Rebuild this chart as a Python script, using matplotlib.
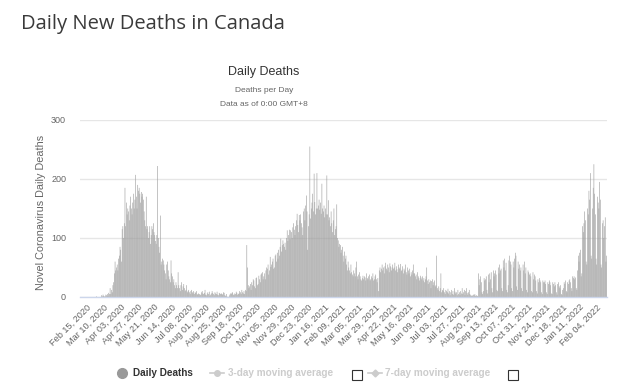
import numpy as np
import pandas as pd
import matplotlib
matplotlib.use("Agg")
import matplotlib.pyplot as plt
from matplotlib.lines import Line2D
from matplotlib.patches import Rectangle
from matplotlib.transforms import ScaledTranslation


# =========================
# DATA (one list per month)
# =========================
START_DATE = "2020-02-15"

feb_2020 = [0] * 15
mar_2020 = [0, 0, 0, 0, 0, 0, 0, 0, 1, 0, 0, 0, 0, 0, 0, 3, 1, 4, 2, 1, 1, 4, 3, 5, 2, 7, 5, 15, 5, 12, 8]
apr_2020 = [20, 25, 40, 60, 45, 50, 55, 45, 65, 70, 85, 80, 60, 115, 120, 100, 125, 185, 120, 160,
            140, 150, 145, 130, 155, 170, 150, 140, 160, 175]
may_2020 = [150, 165, 207, 170, 150, 190, 180, 185, 175, 160, 178, 170, 175, 165, 145, 130, 120, 170,
            115, 120, 100, 110, 120, 90, 105, 120, 115, 125, 110, 105, 95]
jun_2020 = [90, 105, 222, 100, 85, 75, 138, 55, 60, 65, 62, 55, 45, 40, 30, 55, 60, 45, 35, 30,
            25, 62, 40, 35, 25, 30, 20, 15, 25, 20]
jul_2020 = [15, 42, 20, 15, 10, 20, 25, 12, 18, 22, 15, 10, 12, 20, 8, 10, 12, 8, 5, 10, 12, 8, 6,
            10, 5, 8, 7, 10, 4, 5, 6]
aug_2020 = [5, 3, 4, 8, 10, 6, 5, 7, 12, 4, 3, 6, 8, 5, 9, 2, 4, 6, 10, 7, 5, 3, 8, 6, 5, 9, 4, 3,
            7, 6, 5]
sep_2020 = [6, 5, 4, 8, 7, 3, 2, 5, 1, 0, 0, 1, 4, 6, 5, 7, 8, 4, 3, 6, 5, 9, 7, 4, 5, 6, 10, 8, 5, 12]
oct_2020 = [8, 6, 10, 5, 12, 10, 88, 50, 20, 15, 18, 22, 12, 25, 20, 30, 28, 18, 15, 32, 33, 20, 22,
            36, 30, 25, 38, 40, 42, 30, 35]
nov_2020 = [40, 30, 45, 50, 48, 55, 38, 45, 68, 51, 55, 60, 65, 48, 50, 70, 72, 60, 75, 65, 80, 70,
            85, 99, 77, 88, 96, 90, 85, 92]
dec_2020 = [80, 100, 113, 95, 105, 114, 98, 113, 110, 100, 118, 125, 114, 105, 120, 130, 141, 122,
            110, 139, 130, 140, 125, 118, 105, 145, 150, 130, 155, 172, 145]
jan_2021 = [80, 120, 140, 255, 133, 150, 160, 175, 145, 209, 161, 140, 150, 210, 150, 155, 165, 148,
            160, 141, 192, 150, 145, 155, 135, 150, 140, 206, 140, 164, 130]
feb_2021 = [135, 120, 145, 125, 110, 130, 150, 105, 115, 120, 157, 100, 96, 85, 90, 88, 75, 80, 85,
            70, 60, 77, 65, 70, 55, 45, 60, 50]
mar_2021 = [45, 40, 55, 42, 38, 35, 45, 40, 35, 50, 60, 35, 30, 38, 42, 35, 30, 28, 32, 36, 30, 35,
            33, 28, 40, 32, 30, 35, 38, 28, 30]
apr_2021 = [35, 32, 40, 28, 30, 35, 38, 30, 25, 32, 10, 45, 50, 42, 48, 55, 45, 50, 40, 52, 58, 48,
            45, 55, 50, 42, 57, 52, 45, 50]
may_2021 = [55, 48, 50, 58, 45, 52, 47, 42, 55, 50, 48, 56, 44, 46, 52, 40, 48, 45, 55, 42, 38, 50,
            45, 40, 48, 35, 42, 38, 45, 55, 40]
jun_2021 = [40, 35, 38, 30, 42, 35, 32, 28, 36, 33, 30, 35, 28, 32, 25, 30, 35, 50, 28, 22, 30, 25,
            28, 15, 27, 30, 20, 25, 28, 18]
jul_2021 = [20, 70, 15, 12, 18, 10, 15, 40, 8, 12, 10, 15, 8, 5, 12, 10, 8, 14, 6, 10, 3, 8, 12, 5,
            10, 4, 15, 9, 6, 8, 3]
aug_2021 = [12, 5, 8, 3, 10, 6, 15, 5, 8, 12, 3, 10, 15, 7, 4, 8, 12, 5, 3, 2, 3, 2, 4, 3, 5, 2, 3,
            1, 2, 40, 20]
sep_2021 = [30, 35, 25, 8, 5, 10, 32, 28, 30, 35, 12, 6, 38, 25, 40, 30, 42, 15, 8, 45, 35, 40, 45,
            38, 12, 10, 50, 40, 55, 45]
oct_2021 = [48, 15, 10, 62, 50, 65, 45, 58, 12, 8, 20, 62, 70, 60, 55, 15, 10, 60, 50, 65, 75, 70,
            18, 12, 60, 48, 55, 45, 50, 15, 10]
nov_2021 = [55, 45, 60, 40, 50, 12, 8, 45, 42, 38, 40, 35, 10, 8, 42, 30, 38, 35, 28, 10, 6, 30, 25,
            32, 28, 25, 8, 5, 28, 25]
dec_2021 = [25, 28, 22, 8, 5, 25, 22, 28, 25, 20, 6, 5, 25, 22, 18, 25, 20, 8, 4, 22, 25, 18, 15,
            20, 5, 3, 12, 15, 25, 22, 28]
jan_2022 = [10, 8, 25, 22, 28, 30, 25, 15, 10, 35, 32, 35, 30, 33, 15, 12, 45, 70, 60, 75, 80, 35,
            40, 120, 110, 125, 145, 130, 60, 55, 150]
feb_2022 = [140, 180, 165, 210, 70, 65, 150, 185, 225, 175, 140, 65, 55, 170, 160, 150, 195, 165,
            55, 50, 125, 130, 100, 120, 135, 60, 70]

daily_deaths = (feb_2020 + mar_2020 + apr_2020 + may_2020 + jun_2020 + jul_2020 + aug_2020
                + sep_2020 + oct_2020 + nov_2020 + dec_2020 + jan_2021 + feb_2021 + mar_2021
                + apr_2021 + may_2021 + jun_2021 + jul_2021 + aug_2021 + sep_2021 + oct_2021
                + nov_2021 + dec_2021 + jan_2022 + feb_2022)

dates = pd.date_range(START_DATE, periods=len(daily_deaths), freq="D")
date_labels = [d.strftime("%b %d, %Y") for d in dates]

Y_TICKS = [0, 100, 200, 300]
LABEL_STEP = 24


# =========================
# STYLE
# =========================
W, H = 632, 390
CHART_FONT = ["Liberation Sans", "DejaVu Sans"]
BAR_COLOR = "#999999"
GRID_COLOR = "#e6e6e6"
TEXT_DARK = "#333333"
TEXT_MID = "#666666"
LEGEND_OFF = "#cccccc"


def fx(x):
    return x / W


def fy(y):
    return 1 - y / H


fig = plt.figure(figsize=(W / 100, H / 100), dpi=100)
fig.patch.set_facecolor("white")

# plot area in pixels: x 80..607, y 120..297
ax = fig.add_axes([fx(80), fy(297), (607 - 80) / W, (297 - 120) / H])

x = np.arange(len(daily_deaths))
bars = ax.bar(x, daily_deaths, width=0.8, color=BAR_COLOR, linewidth=0, zorder=2)
# sub-pixel columns: no snapping, so thin bars are not dropped
for b in bars:
    b.set_snap(False)

ax.set_xlim(-0.5, len(daily_deaths) - 0.5)
ax.set_ylim(0, 300)
ax.set_yticks(Y_TICKS)
ax.set_yticklabels([str(v) for v in Y_TICKS], fontsize=6.5, color=TEXT_MID, family=CHART_FONT)
ax.tick_params(axis="y", length=0, pad=10)
ax.grid(axis="y", color=GRID_COLOR, linewidth=1, zorder=0)
ax.set_axisbelow(True)

tick_pos = x[::LABEL_STEP]
ax.set_xticks(tick_pos)
ax.set_xticklabels([date_labels[i] for i in tick_pos], rotation=45, ha="right", va="top",
                   rotation_mode="anchor", fontsize=6.6, color=TEXT_MID, family=CHART_FONT)
ax.tick_params(axis="x", length=0, pad=4)
offset = ScaledTranslation(6 / 100, 0, fig.dpi_scale_trans)
for lab in ax.get_xticklabels():
    lab.set_transform(lab.get_transform() + offset)

for side in ["top", "right", "left"]:
    ax.spines[side].set_visible(False)
ax.spines["bottom"].set_color("#ccd6eb")
ax.spines["bottom"].set_linewidth(1)

fig.text(fx(41), fy(212), "Novel Coronavirus Daily Deaths", rotation=90, ha="center", va="center",
         fontsize=7.8, color=TEXT_MID, family=CHART_FONT)

# titles
fig.text(fx(21), fy(29), "Daily New Deaths in Canada", ha="left", va="baseline",
         fontsize=14.5, color="#3a3a3a", family=["Open Sans", "DejaVu Sans"])
fig.text(fx(264), fy(72), "Daily Deaths", ha="center", va="center",
         fontsize=9, color=TEXT_DARK, family=CHART_FONT)
fig.text(fx(264), fy(90), "Deaths per Day", ha="center", va="center",
         fontsize=6, color=TEXT_MID, family=CHART_FONT)
fig.text(fx(264), fy(104), "Data as of 0:00 GMT+8", ha="center", va="center",
         fontsize=6, color=TEXT_MID, family=CHART_FONT)

# legend
ly = fy(373)
fig.add_artist(Line2D([fx(122)], [ly], marker="o", markersize=7, color="#999999",
                      linestyle="none", transform=fig.transFigure))
fig.text(fx(133), ly, "Daily Deaths", ha="left", va="center", fontsize=7.2,
         fontweight="bold", color=TEXT_DARK, family=CHART_FONT)

fig.add_artist(Line2D([fx(210), fx(224)], [ly, ly], color=LEGEND_OFF, linewidth=1.2,
                      transform=fig.transFigure))
fig.add_artist(Line2D([fx(217)], [ly], marker="o", markersize=4, color=LEGEND_OFF,
                      linestyle="none", transform=fig.transFigure))
fig.text(fx(228), ly, "3-day moving average", ha="left", va="center", fontsize=7.2,
         fontweight="bold", color=LEGEND_OFF, family=CHART_FONT)

fig.add_artist(Line2D([fx(368), fx(382)], [ly, ly], color=LEGEND_OFF, linewidth=1.2,
                      transform=fig.transFigure))
fig.add_artist(Line2D([fx(375)], [ly], marker="D", markersize=3.5, color=LEGEND_OFF,
                      linestyle="none", transform=fig.transFigure))
fig.text(fx(385), ly, "7-day moving average", ha="left", va="center", fontsize=7.2,
         fontweight="bold", color=LEGEND_OFF, family=CHART_FONT)

for bx in [352, 508]:
    fig.add_artist(Rectangle((fx(bx), fy(380)), 10 / W, 10 / H, facecolor="white",
                             edgecolor="#333333", linewidth=0.8, transform=fig.transFigure))

fig.savefig("out.png", dpi=100, facecolor="white")
